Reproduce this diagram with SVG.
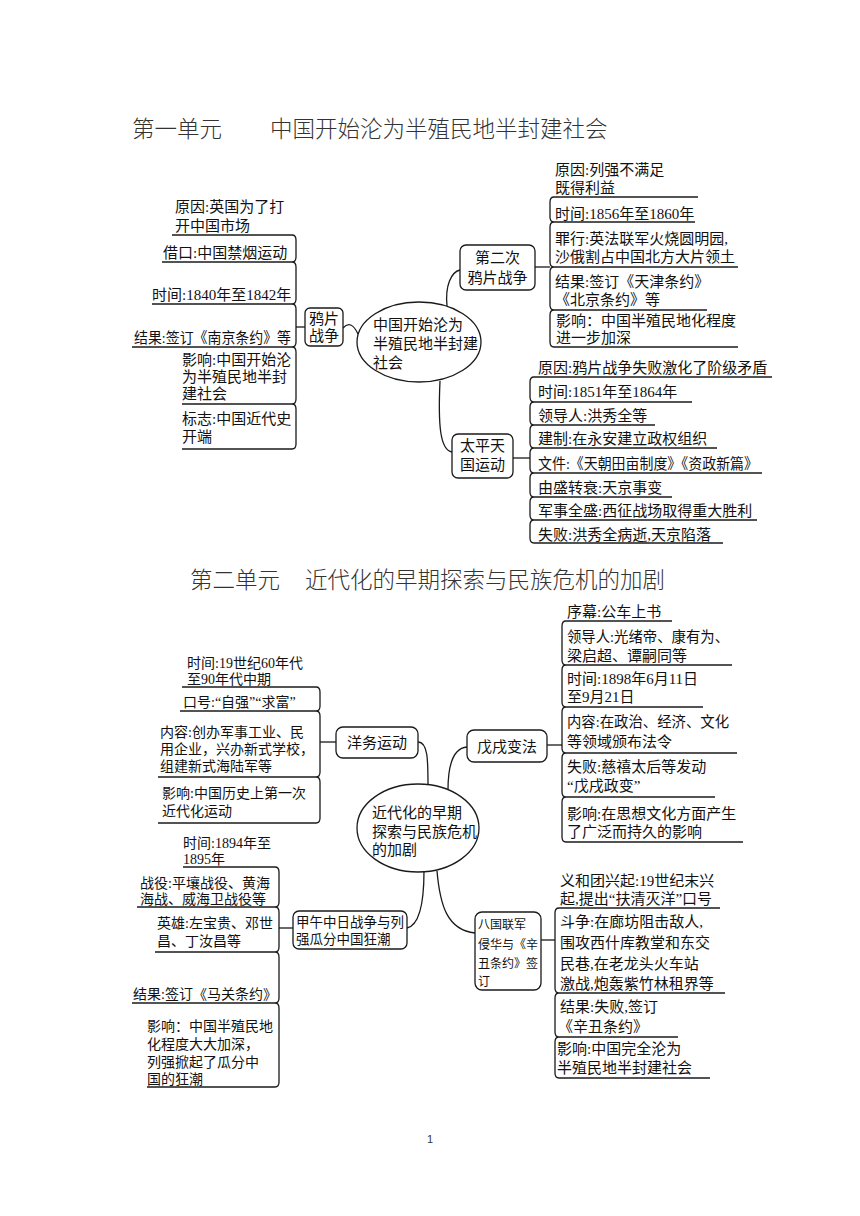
<svg xmlns="http://www.w3.org/2000/svg" width="860" height="1216" viewBox="0 0 860 1216">
<style>
.t{font-family:"Liberation Serif","Noto Sans CJK SC",serif;font-size:15px;fill:#111}
.s14{font-size:14px}
.s135{font-size:13.5px}
.s12{font-size:12px}
.title{font-family:"Noto Sans CJK SC","Liberation Sans",sans-serif;font-size:22.5px;font-weight:300;fill:#333}
.ln{fill:none;stroke:#1a1a1a;stroke-width:1.3}
.box{fill:#fff;stroke:#1a1a1a;stroke-width:1.3}
.mid{text-anchor:middle}
</style>
<rect width="860" height="1216" fill="#fff"/>

<g id="title1"><text class="title" x="132" y="137">第一单元</text><text class="title" x="270" y="137">中国开始沦为半殖民地半封建社会</text></g>
<g id="title2"><text class="title" x="190" y="588">第二单元</text><text class="title" x="305" y="588">近代化的早期探索与民族危机的加剧</text></g>

<g id="connectors">
<path class="ln" d="M292,235 Q296,235 296,240 L296,257 Q296,262 292,262 M292,262 Q296,262 296,267 L296,299 Q296,304 292,304 M292,304 Q296,304 296,309 L296,342 Q296,347 292,347 M292,347 Q296,347 296,352 L296,399 Q296,404 292,404 M292,404 Q296,404 296,409 L296,444 Q296,449 292,449"/>
<path class="ln" d="M296,327 L305,327"/>
<path class="ln" d="M343,328 Q351,319 358,334"/>
<path class="ln" d="M447,306 C445,286 451,272 460,270"/>
<path class="ln" d="M535,267 L550,267"/>
<path class="ln" d="M554,197 Q550,197 550,202 L550,217 Q550,222 554,222 M554,222 Q550,222 550,227 L550,262 Q550,267 554,267 M554,267 Q550,267 550,272 L550,305 Q550,310 554,310 M554,310 Q550,310 550,315 L550,342 Q550,347 554,347"/>
<path class="ln" d="M440,381 C438,425 440,450 452,452"/>
<path class="ln" d="M513,458 L530,458"/>
<path class="ln" d="M534,377 Q530,377 530,382 L530,397 Q530,402 534,402 M534,402 Q530,402 530,407 L530,420 Q530,425 534,425 M534,425 Q530,425 530,430 L530,443 Q530,448 534,448 M534,448 Q530,448 530,453 L530,468 Q530,473 534,473 M534,473 Q530,473 530,478 L530,492 Q530,497 534,497 M534,497 Q530,497 530,502 L530,515 Q530,520 534,520 M534,520 Q530,520 530,525 L530,538 Q530,543 534,543"/>

<path class="ln" d="M316,687 Q320,687 320,692 L320,706 Q320,711 316,711 M316,711 Q320,711 320,716 L320,772 Q320,777 316,777 M316,777 Q320,777 320,782 L320,818 Q320,823 316,823"/>
<path class="ln" d="M320,742 L336,742"/>
<path class="ln" d="M418,742 C428,742 428,760 428,786"/>
<path class="ln" d="M467,747 C455,748 448,760 448,790"/>
<path class="ln" d="M547,745 L562,745"/>
<path class="ln" d="M566,621 Q562,621 562,626 L562,660 Q562,665 566,665 M566,665 Q562,665 562,670 L562,702 Q562,707 566,707 M566,707 Q562,707 562,712 L562,748 Q562,753 566,753 M566,753 Q562,753 562,758 L562,792 Q562,797 566,797 M566,797 Q562,797 562,802 L562,837 Q562,842 566,842"/>
<path class="ln" d="M424,871 C424,900 420,925 407,928"/>
<path class="ln" d="M279,928 L293,928"/>
<path class="ln" d="M275,867 Q279,867 279,872 L279,902 Q279,907 275,907 M275,907 Q279,907 279,912 L279,947 Q279,952 275,952 M275,952 Q279,952 279,957 L279,998 Q279,1003 275,1003 M275,1003 Q279,1003 279,1008 L279,1082 Q279,1087 275,1087"/>
<path class="ln" d="M437,871 C440,905 447,930 475,933"/>
<path class="ln" d="M541,940 L555,940"/>
<path class="ln" d="M559,908 Q555,908 555,913 L555,988 Q555,993 559,993 M559,993 Q555,993 555,998 L555,1032 Q555,1037 559,1037 M559,1037 Q555,1037 555,1042 L555,1073 Q555,1078 559,1078"/>
</g>

<g id="center1"><ellipse class="box" cx="419" cy="342" rx="62" ry="40"/>
<text class="t" x="373" y="330">中国开始沦为</text><text class="t" x="373" y="349">半殖民地半封建</text><text class="t" x="373" y="368">社会</text></g>

<g id="node-yapian"><rect class="box" x="305" y="308" width="38" height="38" rx="5"/>
<text class="t mid" x="324" y="324">鸦片</text><text class="t mid" x="324" y="341">战争</text></g>
<g id="yp-1"><text class="t" x="175" y="212">原因:英国为了打</text><text class="t" x="175" y="231">开中国市场</text><path class="ln" d="M172,235 L292,235"/></g>
<g id="yp-2"><text class="t" x="163" y="258">借口:中国禁烟运动</text><path class="ln" d="M162,262 L292,262"/></g>
<g id="yp-3"><text class="t" x="152" y="300">时间:1840年至1842年</text><path class="ln" d="M152,304 L292,304"/></g>
<g id="yp-4"><text class="t" x="134" y="343" textLength="157" lengthAdjust="spacingAndGlyphs">结果:签订《南京条约》等</text><path class="ln" d="M132,347 L292,347"/></g>
<g id="yp-5"><text class="t" x="182" y="365">影响:中国开始沦</text><text class="t" x="182" y="382">为半殖民地半封</text><text class="t" x="182" y="399">建社会</text><path class="ln" d="M182,404 L292,404"/></g>
<g id="yp-6"><text class="t" x="182" y="424">标志:中国近代史</text><text class="t" x="182" y="442">开端</text><path class="ln" d="M182,449 L292,449"/></g>

<g id="node-second"><rect class="box" x="460" y="245" width="75" height="45" rx="6"/>
<text class="t mid" x="497.5" y="263">第二次</text><text class="t mid" x="497.5" y="283">鸦片战争</text></g>
<g id="se-1"><text class="t" x="555" y="175">原因:列强不满足</text><text class="t" x="555" y="193">既得利益</text><path class="ln" d="M554,197 L698,197"/></g>
<g id="se-2"><text class="t" x="555" y="219">时间:1856年至1860年</text><path class="ln" d="M554,222 L695,222"/></g>
<g id="se-3"><text class="t" x="555" y="244">罪行:英法联军火烧圆明园,</text><text class="t" x="555" y="262">沙俄割占中国北方大片领土</text><path class="ln" d="M554,267 L738,267"/></g>
<g id="se-4"><text class="t" x="555" y="287">结果:签订《天津条约》</text><text class="t" x="555" y="305">《北京条约》等</text><path class="ln" d="M554,310 L707,310"/></g>
<g id="se-5"><text class="t" x="556" y="326">影响：中国半殖民地化程度</text><text class="t" x="556" y="343">进一步加深</text><path class="ln" d="M554,347 L738,347"/></g>

<g id="node-taiping"><rect class="box" x="452" y="434" width="61" height="44" rx="6"/>
<text class="t mid" x="482.5" y="451">太平天</text><text class="t mid" x="482.5" y="470">国运动</text></g>
<g id="tp-1"><text class="t" x="538" y="373">原因:鸦片战争失败激化了阶级矛盾</text><path class="ln" d="M534,377 L772,377"/></g>
<g id="tp-2"><text class="t" x="538" y="397">时间:1851年至1864年</text><path class="ln" d="M534,402 L692,402"/></g>
<g id="tp-3"><text class="t" x="538" y="421">领导人:洪秀全等</text><path class="ln" d="M534,425 L655,425"/></g>
<g id="tp-4"><text class="t" x="538" y="444">建制:在永安建立政权组织</text><path class="ln" d="M534,448 L717,448"/></g>
<g id="tp-5"><text class="t" x="538" y="469" textLength="220" lengthAdjust="spacingAndGlyphs">文件:《天朝田亩制度》《资政新篇》</text><path class="ln" d="M534,473 L762,473"/></g>
<g id="tp-6"><text class="t" x="538" y="493">由盛转衰:天京事变</text><path class="ln" d="M534,497 L672,497"/></g>
<g id="tp-7"><text class="t" x="538" y="516">军事全盛:西征战场取得重大胜利</text><path class="ln" d="M534,520 L757,520"/></g>
<g id="tp-8"><text class="t" x="538" y="540">失败:洪秀全病逝,天京陷落</text><path class="ln" d="M534,543 L723,543"/></g>

<g id="center2"><ellipse class="box" cx="418" cy="828" rx="61" ry="44"/>
<text class="t" x="372" y="818">近代化的早期</text><text class="t" x="372" y="837">探索与民族危机</text><text class="t" x="372" y="855">的加剧</text></g>

<g id="node-yangwu"><rect class="box" x="336" y="727" width="82" height="31" rx="7"/>
<text class="t mid" x="377" y="748">洋务运动</text></g>
<g id="yw-1"><text class="t s14" x="187" y="668">时间:19世纪60年代</text><text class="t s14" x="187" y="684">至90年代中期</text><path class="ln" d="M182,687 L316,687"/></g>
<g id="yw-2"><text class="t s14" x="183" y="707">口号:“自强”“求富”</text><path class="ln" d="M180,711 L316,711"/></g>
<g id="yw-3"><text class="t s14" x="160" y="737">内容:创办军事工业、民</text><text class="t s14" x="160" y="754">用企业，兴办新式学校，</text><text class="t s14" x="160" y="771">组建新式海陆军等</text><path class="ln" d="M158,777 L316,777"/></g>
<g id="yw-4"><text class="t s14" x="162" y="798">影响:中国历史上第一次</text><text class="t s14" x="162" y="816">近代化运动</text><path class="ln" d="M158,823 L316,823"/></g>

<g id="node-wuxu"><rect class="box" x="467" y="730" width="80" height="32" rx="7"/>
<text class="t mid" x="507" y="752">戊戌变法</text></g>
<g id="wx-1"><text class="t" x="567" y="617">序幕:公车上书</text><path class="ln" d="M566,621 L672,621"/></g>
<g id="wx-2"><text class="t" x="567" y="642" textLength="162" lengthAdjust="spacingAndGlyphs">领导人:光绪帝、康有为、</text><text class="t" x="567" y="661">梁启超、谭嗣同等</text><path class="ln" d="M566,665 L732,665"/></g>
<g id="wx-3"><text class="t" x="567" y="684">时间:1898年6月11日</text><text class="t" x="567" y="702">至9月21日</text><path class="ln" d="M566,707 L703,707"/></g>
<g id="wx-4"><text class="t" x="567" y="727" textLength="162" lengthAdjust="spacingAndGlyphs">内容:在政治、经济、文化</text><text class="t" x="567" y="747">等领域颁布法令</text><path class="ln" d="M566,753 L737,753"/></g>
<g id="wx-5"><text class="t" x="567" y="772">失败:慈禧太后等发动</text><text class="t" x="567" y="791">“戊戌政变”</text><path class="ln" d="M566,797 L715,797"/></g>
<g id="wx-6"><text class="t" x="567" y="819">影响:在思想文化方面产生</text><text class="t" x="567" y="837">了广泛而持久的影响</text><path class="ln" d="M566,842 L743,842"/></g>

<g id="node-jiawu"><rect class="box" x="293" y="911" width="114" height="38" rx="6"/>
<text class="t s135" x="296" y="927">甲午中日战争与列</text><text class="t s135" x="296" y="944">强瓜分中国狂潮</text></g>
<g id="jw-1"><text class="t s14" x="183" y="848">时间:1894年至</text><text class="t s14" x="183" y="864">1895年</text><path class="ln" d="M183,867 L275,867"/></g>
<g id="jw-2"><text class="t s14" x="140" y="888">战役:平壤战役、黄海</text><text class="t s14" x="140" y="904">海战、威海卫战役等</text><path class="ln" d="M137,907 L275,907"/></g>
<g id="jw-3"><text class="t s14" x="157" y="928">英雄:左宝贵、邓世</text><text class="t s14" x="157" y="946">昌、丁汝昌等</text><path class="ln" d="M155,952 L275,952"/></g>
<g id="jw-4"><text class="t s14" x="133" y="999">结果:签订《马关条约》</text><path class="ln" d="M132,1003 L275,1003"/></g>
<g id="jw-5"><text class="t s14" x="147" y="1031">影响：中国半殖民地</text><text class="t s14" x="147" y="1049">化程度大大加深，</text><text class="t s14" x="147" y="1067">列强掀起了瓜分中</text><text class="t s14" x="147" y="1084">国的狂潮</text><path class="ln" d="M147,1087 L275,1087"/></g>

<g id="node-baguo"><rect class="box" x="475" y="912" width="66" height="78" rx="7"/>
<text class="t s12" x="478" y="929">八国联军</text><text class="t s12" x="478" y="949">侵华与《辛</text><text class="t s12" x="478" y="968">丑条约》签</text><text class="t s12" x="478" y="986">订</text></g>
<g id="bg-1"><text class="t" x="560" y="886">义和团兴起:19世纪末兴</text><text class="t" x="560" y="904">起,提出“扶清灭洋”口号</text><path class="ln" d="M559,908 L720,908"/></g>
<g id="bg-2"><text class="t" x="560" y="927">斗争:在廊坊阻击敌人,</text><text class="t" x="560" y="948">围攻西什库教堂和东交</text><text class="t" x="560" y="969">民巷,在老龙头火车站</text><text class="t" x="560" y="989">激战,炮轰紫竹林租界等</text><path class="ln" d="M559,993 L725,993"/></g>
<g id="bg-3"><text class="t" x="560" y="1012">结果:失败,签订</text><text class="t" x="558" y="1032">《辛丑条约》</text><path class="ln" d="M559,1037 L678,1037"/></g>
<g id="bg-4"><text class="t" x="557" y="1054">影响:中国完全沦为</text><text class="t" x="557" y="1073">半殖民地半封建社会</text><path class="ln" d="M559,1078 L710,1078"/></g>

<g id="page"><text x="430" y="1143" style="font-family:'Liberation Sans',sans-serif;font-size:11px;fill:#333" text-anchor="middle">1</text></g>
</svg>
